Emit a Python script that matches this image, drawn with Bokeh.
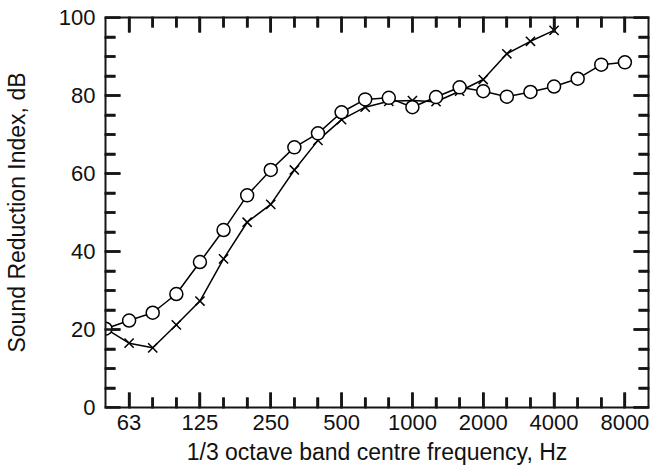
from bokeh.plotting import figure
from bokeh.models import Range1d, LinearAxis, FixedTicker
from bokeh.embed import file_html
from bokeh.resources import INLINE

# 1/3 octave band centre frequencies, Hz
bands = [50, 63, 80, 100, 125, 160, 200, 250, 315, 400, 500, 630, 800,
         1000, 1250, 1600, 2000, 2500, 3150, 4000, 5000, 6300, 8000]
tick_bands = [63, 125, 250, 500, 1000, 2000, 4000, 8000]

# y ticks, dB
y_major = [0, 20, 40, 60, 80, 100]
y_minor = [5, 10, 15, 25, 30, 35, 45, 50, 55, 65, 70, 75, 85, 90, 95]

# Sound reduction index, dB (circles)
sri_circle = [20.2, 22.3, 24.3, 29.1, 37.3, 45.5, 54.4, 60.9, 66.7, 70.3,
              75.7, 79.0, 79.4, 77.0, 79.6, 82.1, 81.1, 79.7, 80.9, 82.3,
              84.3, 87.9, 88.5]
# Sound reduction index, dB (crosses), up to 4000 Hz
sri_cross = [20.2, 16.5, 15.3, 21.2, 27.3, 38.1, 47.5, 52.1, 60.9, 68.5,
             73.8, 77.0, 78.5, 78.7, 78.4, 81.1, 84.1, 90.7, 93.9, 96.7]

x_circle = list(range(len(sri_circle)))
x_cross = list(range(len(sri_cross)))

FONT = "Liberation Sans"
INK = "#161616"
W, H = 652, 470
BL, BR, BT, BB = 100, 4, 17, 63
X0, X1 = 0, len(bands)
Y0, Y1 = 0, 100

p = figure(width=W, height=H, output_backend="svg", toolbar_location=None,
           x_range=Range1d(X0, X1), y_range=Range1d(Y0, Y1),
           min_border_left=BL, min_border_right=BR, min_border_top=BT,
           min_border_bottom=BB)
p.grid.visible = False
p.outline_line_color = None

major_x = [bands.index(f) for f in tick_bands]
minor_x = [i for i in range(1, len(bands)) if i not in major_x]
overrides = {bands.index(f): str(f) for f in tick_bands}

x_ticker = FixedTicker(ticks=major_x, minor_ticks=minor_x)
y_ticker = FixedTicker(ticks=y_major, minor_ticks=y_minor)


def style(ax):
    ax.axis_line_color = INK
    ax.axis_line_width = 2
    ax.major_tick_line_color = INK
    ax.major_tick_line_width = 2.5
    ax.minor_tick_line_color = INK
    ax.minor_tick_line_width = 2.5
    ax.major_tick_in = 15
    ax.major_tick_out = 1
    ax.minor_tick_in = 10
    ax.minor_tick_out = 1
    ax.major_label_text_font = FONT
    ax.major_label_text_font_size = "22px"
    ax.major_label_text_color = "#111111"
    ax.axis_label_text_font = FONT
    ax.axis_label_text_font_size = "23px"
    ax.axis_label_text_font_style = "normal"
    ax.axis_label_text_color = "#111111"


xax = p.xaxis[0]
xax.ticker = x_ticker
xax.major_label_overrides = overrides
style(xax)
xax.axis_label = "1/3 octave band centre frequency, Hz"
xax.major_label_standoff = 6
xax.axis_label_standoff = 6

yax = p.yaxis[0]
yax.ticker = y_ticker
style(yax)
yax.axis_label = "Sound Reduction Index, dB"
yax.major_label_standoff = 9
yax.axis_label_standoff = 26

# frame lines and tick marks on the top and right edges
top = LinearAxis(ticker=x_ticker)
style(top)
top.major_label_text_alpha = 0
top.major_label_text_font_size = "1px"
top.major_label_standoff = 0
p.add_layout(top, "above")
right = LinearAxis(ticker=y_ticker)
style(right)
right.major_label_text_alpha = 0
right.major_label_text_font_size = "1px"
right.major_label_standoff = 0
p.add_layout(right, "right")

# backup inward tick marks drawn as segments (pixel lengths -> data units)
fw, fh = W - BL - BR, H - BT - BB
dx_per_px = (X1 - X0) / fw
dy_per_px = (Y1 - Y0) / fh
for ticks, L in ((y_major, 15), (y_minor, 10)):
    n = len(ticks)
    p.segment([X0] * n, ticks, [X0 + L * dx_per_px] * n, ticks,
              line_color=INK, line_width=2.5)
    p.segment([X1] * n, ticks, [X1 - L * dx_per_px] * n, ticks,
              line_color=INK, line_width=2.5)
for ticks, L in ((major_x, 15), (minor_x, 10)):
    n = len(ticks)
    p.segment(ticks, [Y0] * n, ticks, [Y0 + L * dy_per_px] * n,
              line_color=INK, line_width=2.5)
    p.segment(ticks, [Y1] * n, ticks, [Y1 - L * dy_per_px] * n,
              line_color=INK, line_width=2.5)

# crosses series
p.line(x_cross, sri_cross, line_color="black", line_width=1.5)
p.scatter(x_cross, sri_cross, marker="x", size=13, line_color="black",
          line_width=1.5)

# circles series
p.line(x_circle, sri_circle, line_color="black", line_width=1.5)
p.scatter(x_circle, sri_circle, marker="circle", size=13, line_color="black",
          fill_color="white", line_width=1.5)

open("out.html", "w").write(file_html(p, INLINE))
